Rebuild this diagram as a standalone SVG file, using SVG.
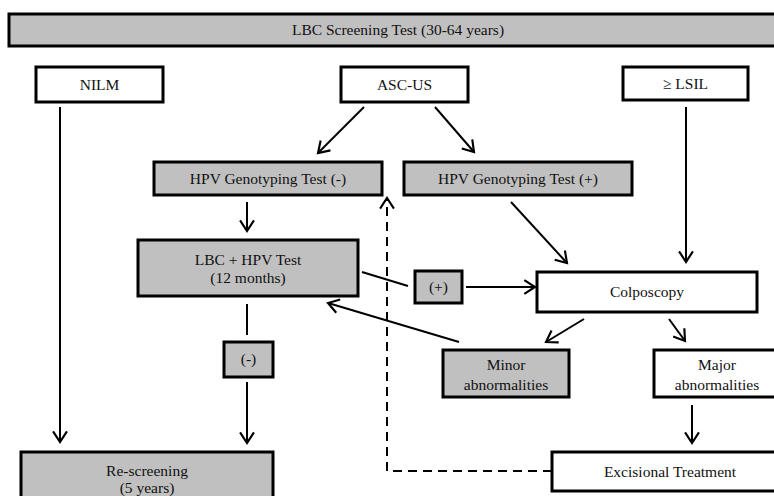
<svg xmlns="http://www.w3.org/2000/svg" width="774" height="496" viewBox="0 0 774 496">
<defs>
<marker id="arr" markerUnits="userSpaceOnUse" markerWidth="14" markerHeight="16" refX="10" refY="6.5" orient="auto" viewBox="-1 -1 13 15">
<path d="M0,0 L10,6.5 L0,13" fill="none" stroke="#000" stroke-width="2"/>
</marker>
</defs>
<style>
.box{stroke:#000;stroke-width:3}
.g{fill:#c0c0c0}
.w{fill:#fff}
text{font-family:"Liberation Serif","Times New Roman",serif;font-size:15.5px;fill:#111;text-anchor:middle}
.c{stroke:#000;stroke-width:2;fill:none}
.a{marker-end:url(#arr)}
.d{stroke-dasharray:9 6}
</style>
<rect width="774" height="496" fill="#fff"/>
<g id="top"><rect class="box g" x="9" y="14" width="790" height="32"/><text x="398" y="35">LBC Screening Test (30-64 years)</text></g>
<g id="nilm"><rect class="box w" x="36" y="67" width="127" height="35"/><text x="99.5" y="90">NILM</text></g>
<g id="ascus"><rect class="box w" x="341" y="67" width="127" height="35"/><text x="404.5" y="90">ASC-US</text></g>
<g id="lsil"><rect class="box w" x="623" y="67" width="125" height="33"/><text x="685.5" y="89">≥ LSIL</text></g>
<g id="hpvneg"><rect class="box g" x="154" y="162" width="228" height="33"/><text x="268" y="184">HPV Genotyping Test (-)</text></g>
<g id="hpvpos"><rect class="box g" x="404" y="162" width="228" height="33"/><text x="518" y="184">HPV Genotyping Test (+)</text></g>
<g id="lbchpv"><rect class="box g" x="138" y="240" width="220" height="56"/><text x="248" y="265">LBC + HPV Test</text><text x="248" y="283">(12 months)</text></g>
<g id="pos"><rect class="box g" x="415" y="271" width="47" height="32"/><text x="438.5" y="292">(+)</text></g>
<g id="colpo"><rect class="box w" x="537" y="272" width="220" height="40"/><text x="647" y="297">Colposcopy</text></g>
<g id="neg"><rect class="box g" x="224" y="342" width="49" height="35"/><text x="248.5" y="364">(-)</text></g>
<g id="minor"><rect class="box g" x="443" y="350" width="126" height="47"/><text x="506" y="370">Minor</text><text x="506" y="390">abnormalities</text></g>
<g id="major"><rect class="box w" x="654" y="350" width="130" height="47"/><text x="717" y="370">Major</text><text x="717" y="390">abnormalities</text></g>
<g id="excision"><rect class="box w" x="552" y="452" width="236" height="39"/><text x="670" y="477">Excisional Treatment</text></g>
<g id="rescreen"><rect class="box g" x="21" y="452" width="252" height="60"/><text x="147" y="476">Re-screening</text><text x="147" y="493">(5 years)</text></g>
<g id="connectors">
<path class="c a" d="M60,107 L60,442"/>
<path class="c a" d="M364,107 L318,153"/>
<path class="c a" d="M435,107 L474,152"/>
<path class="c a" d="M686,107 L686,262"/>
<path class="c a" d="M247,202 L247,231"/>
<path class="c a" d="M511,202 L567,263"/>
<path class="c" d="M362,272 L408,286"/>
<path class="c a" d="M466,287 L535,287"/>
<path class="c a" d="M584,319 L546,342"/>
<path class="c a" d="M669,319 L685,341"/>
<path class="c a" d="M459,342 L328,303"/>
<path class="c" d="M247,304 L247,335"/>
<path class="c a" d="M247,382 L247,443"/>
<path class="c a" d="M692,405 L692,443"/>
<path class="c a d" d="M552,471 L387,471 L387,198"/>
</g>
</svg>
